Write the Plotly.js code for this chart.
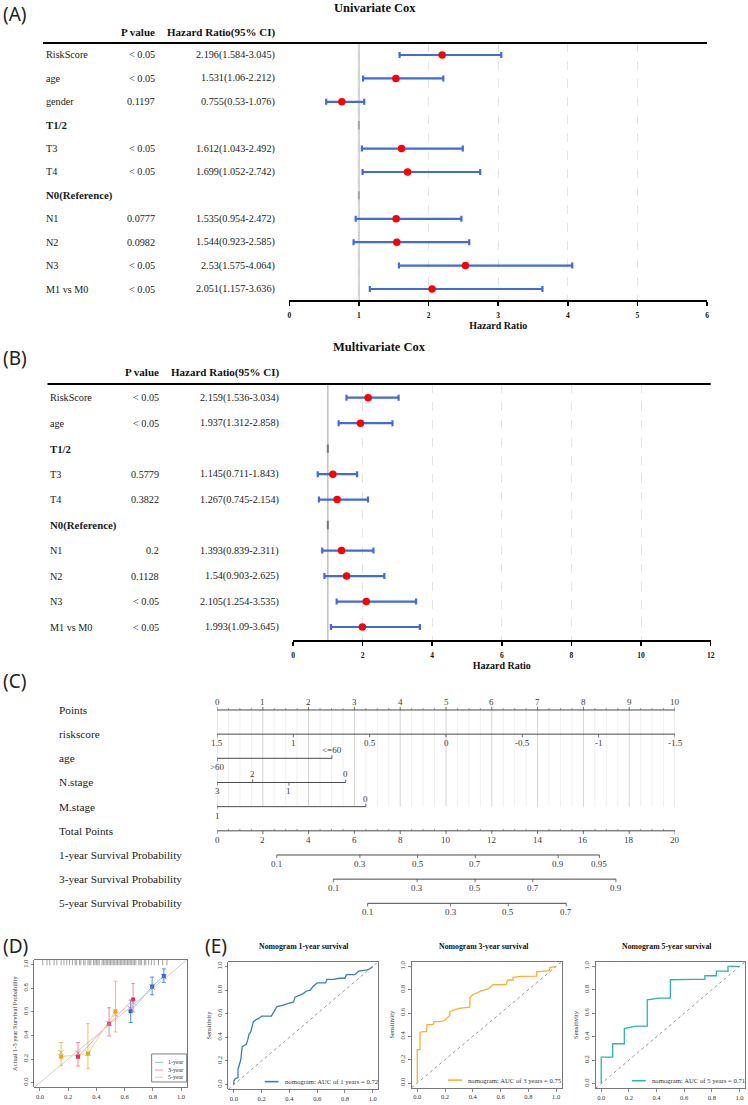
<!DOCTYPE html>
<html><head><meta charset="utf-8">
<script src="https://cdn.plot.ly/plotly-3.0.1.min.js"></script>
<style>html,body{margin:0;padding:0;background:#fff}#chart{width:748px;height:1105px}</style>
</head><body><div id="chart"></div>
<script>
// ================= DATA =================
// (A) Univariate Cox
const uniVars=['RiskScore','age','gender','T1/2','T3','T4','N0(Reference)','N1','N2','N3','M1 vs M0'];
const uniP=['< 0.05','< 0.05','0.1197','','< 0.05','< 0.05','','0.0777','0.0982','< 0.05','< 0.05'];
const uniHR=[2.196,1.531,0.755,null,1.612,1.699,null,1.535,1.544,2.53,2.051];
const uniLo=[1.584,1.06,0.53,null,1.043,1.052,null,0.954,0.923,1.575,1.157];
const uniHi=[3.045,2.212,1.076,null,2.492,2.742,null,2.472,2.585,4.064,3.636];
// (B) Multivariate Cox
const mulVars=['RiskScore','age','T1/2','T3','T4','N0(Reference)','N1','N2','N3','M1 vs M0'];
const mulP=['< 0.05','< 0.05','','0.5779','0.3822','','0.2','0.1128','< 0.05','< 0.05'];
const mulHR=[2.159,1.937,null,1.145,1.267,null,1.393,1.54,2.105,1.993];
const mulLo=[1.536,1.312,null,0.711,0.745,null,0.839,0.903,1.254,1.09];
const mulHi=[3.034,2.858,null,1.843,2.154,null,2.311,2.625,3.535,3.645];
// (C) Nomogram
const nomoRows=['Points','riskscore','age','N.stage','M.stage','Total Points','1-year Survival Probability','3-year Survival Probability','5-year Survival Probability'];
const pointsTicks=[0,1,2,3,4,5,6,7,8,9,10];
const riskTicks=[1.5,1,0.5,0,-0.5,-1,-1.5];
const riskPoints=[0,1.667,3.333,5,6.667,8.333,10];
const ageLevels=['>60','<=60'];
const agePoints=[0,2.51];
const nLevels=['3','2','1','0'];
const nPoints=[0,0.78,1.57,2.81];
const mLevels=['1','0'];
const mPoints=[0,3.25];
const totalTicks=[0,2,4,6,8,10,12,14,16,18,20];
const surv1Probs=[0.1,0.3,0.5,0.7,0.9,0.95];
const surv1Total=[2.61,6.24,8.76,11.28,14.9,16.7];
const surv3Probs=[0.1,0.3,0.5,0.7,0.9];
const surv3Total=[5.08,8.74,11.27,13.79,17.42];
const surv5Probs=[0.1,0.3,0.5,0.7];
const surv5Total=[6.58,10.2,12.72,15.25];
// (D) Calibration
const calNames=['1-year','3-year','5-year'];
const cal1Pred=[0.643,0.795,0.878], cal1Obs=[0.605,0.815,0.905], cal1Lo=[0.51,0.745,0.85], cal1Hi=[0.70,0.895,0.965], cal1Cor=[0.625,0.81,0.90];
const cal3Pred=[0.27,0.49,0.66],   cal3Obs=[0.22,0.50,0.705],  cal3Lo=[0.14,0.395,0.60], cal3Hi=[0.34,0.635,0.84], cal3Cor=[0.25,0.50,0.68];
const cal5Pred=[0.15,0.34,0.535],  cal5Obs=[0.22,0.245,0.605], cal5Lo=[0.145,0.12,0.43], cal5Hi=[0.34,0.50,0.86], cal5Cor=[0.255,0.25,0.58];
const rugPred=[0.02,0.05,0.07,0.1,0.12,0.15,0.17,0.19,0.21,0.23,0.25,0.26,0.28,0.29,0.31,0.32,0.34,0.35,0.36,0.38,0.39,0.4,0.41,0.42,0.44,0.45,0.46,0.47,0.48,0.49,0.5,0.51,0.52,0.53,0.54,0.55,0.56,0.57,0.58,0.59,0.6,0.61,0.62,0.63,0.64,0.65,0.66,0.67,0.68,0.7,0.71,0.72,0.74,0.75,0.77,0.79,0.81,0.84,0.87,0.9];
// (E) ROC curves
const roc1Fpr=[0,0,0.01,0.03,0.03,0.04,0.05,0.06,0.08,0.09,0.1,0.11,0.12,0.13,0.14,0.16,0.18,0.2,0.27,0.29,0.31,0.35,0.37,0.4,0.43,0.44,0.48,0.5,0.52,0.55,0.57,0.6,0.66,0.67,0.72,0.76,0.8,0.81,0.87,0.9,0.96,0.98,1];
const roc1Tpr=[0,0.03,0.05,0.06,0.13,0.18,0.21,0.32,0.33,0.34,0.38,0.43,0.44,0.48,0.53,0.55,0.56,0.58,0.58,0.62,0.66,0.67,0.68,0.69,0.7,0.74,0.76,0.77,0.79,0.8,0.83,0.86,0.86,0.89,0.89,0.9,0.9,0.93,0.93,0.96,0.97,0.98,1];
const roc3Fpr=[0,0,0.02,0.02,0.04,0.067,0.07,0.115,0.12,0.17,0.2,0.22,0.235,0.235,0.27,0.3,0.378,0.38,0.4,0.44,0.46,0.51,0.53,0.545,0.64,0.65,0.69,0.69,0.75,0.86,0.86,0.95,0.955,1];
const roc3Tpr=[0,0.286,0.286,0.434,0.44,0.44,0.5,0.5,0.526,0.526,0.54,0.56,0.58,0.614,0.626,0.64,0.65,0.734,0.757,0.777,0.79,0.806,0.823,0.843,0.843,0.883,0.883,0.906,0.914,0.917,0.954,0.963,0.99,1];
const roc5Fpr=[0,0,0.083,0.083,0.167,0.167,0.25,0.333,0.333,0.417,0.5,0.5,0.667,0.75,0.75,0.833,0.833,0.917,0.917,1];
const roc5Tpr=[0,0.226,0.226,0.34,0.34,0.47,0.49,0.49,0.715,0.73,0.73,0.886,0.89,0.89,0.92,0.92,0.96,0.96,1,1];
const rocYears=[1,3,5];
const rocAUC=[0.72,0.75,0.71];

// ================= LAYOUT HELPERS =================
const SERIF='Liberation Serif, Times New Roman, serif';
const W=748,H=1105;
const X=p=>p/W, Y=p=>1-p/H;
const xdom=(a,b)=>[a/W,b/W];
const ydom=(top,bot)=>[1-bot/H,1-top/H];
const traces=[],annotations=[],shapes=[];
const layout={width:W,height:H,margin:{l:0,r:0,t:0,b:0},paper_bgcolor:'#fff',plot_bgcolor:'rgba(0,0,0,0)',
  showlegend:false,hovermode:false,font:{family:SERIF,color:'#222'},annotations,shapes};
function ann(o){annotations.push(Object.assign({showarrow:false,xanchor:'center',yanchor:'middle'},o));}
function txt(text,x,y,o={}){ann(Object.assign({text,x,y,xref:'paper',yref:'paper',
  font:{family:SERIF,size:10,color:'#1a1a1a'}},o));}

// panel letters
[['(A)',1,14],['(B)',1,358],['(C)',1,681],['(D)',1,946],['(E)',203,946]].forEach(([t,x,y])=>
  txt(t,X(x),Y(y),{xanchor:'left',font:{family:'Noto Sans, DejaVu Sans, sans-serif',size:19,color:'#222'}}));

// ================= FOREST PLOTS =================
function forest(o){
  const ax=o.ax, xa='x'+ax, ya='y'+ax, idx=o.vars.map((_,i)=>i);
  layout['xaxis'+ax]={domain:xdom(o.x0,o.x1),range:o.range,anchor:ya,dtick:o.dtick,tick0:0,showline:true,linecolor:'#000',
    linewidth:2,ticks:'outside',ticklen:4,tickwidth:1.5,tickcolor:'#000',ticklabelstandoff:3,
    tickfont:{family:SERIF,size:7.5,color:'#111',weight:'bold'},
    showgrid:true,gridcolor:'#dedede',griddash:'dash',gridwidth:0.8,zeroline:false,fixedrange:true,
    title:{text:'<b>Hazard Ratio</b>',font:{family:SERIF,size:10,color:'#111'},standoff:1}};
  layout['yaxis'+ax]={domain:ydom(o.top,o.bot),range:o.yr,anchor:xa,visible:false,fixedrange:true};
  shapes.push({type:'line',xref:xa,yref:ya+' domain',x0:1,x1:1,y0:0,y1:1,line:{color:o.refColor,width:o.refW},layer:'below'});
  shapes.push({type:'line',xref:'paper',yref:ya+' domain',x0:X(o.l0),x1:X(o.x1),y0:1,y1:1,line:{color:'#000',width:2}});
  const isRef=o.hr.map(h=>h==null);
  traces.push({type:'scatter',mode:'markers',xaxis:xa,yaxis:ya,x:idx.filter(i=>isRef[i]).map(()=>1),y:idx.filter(i=>isRef[i]),
    marker:{symbol:'line-ns',size:6,line:{color:o.refTick,width:2}},hoverinfo:'skip'});
  traces.push({type:'scatter',mode:'markers',xaxis:xa,yaxis:ya,x:o.hr,y:idx,
    error_x:{type:'data',symmetric:false,array:o.hr.map((h,i)=>h==null?null:+(o.hi[i]-h).toFixed(4)),
      arrayminus:o.hr.map((h,i)=>h==null?null:+(h-o.lo[i]).toFixed(4)),color:'#4169e1',thickness:2.2,width:3},
    marker:{color:'#ff0000',size:7.5},hoverinfo:'skip'});
  // table
  txt(o.title,X(o.titleX),Y(o.titleY),{font:{family:SERIF,size:12.5,color:'#111'}});
  txt('<b>P value</b>',X(o.pX),Y(o.headY),{xanchor:'right',font:{family:SERIF,size:11,color:'#111'}});
  txt('<b>Hazard Ratio(95% CI)</b>',X(o.hrX),Y(o.headY),{xanchor:'right',font:{family:SERIF,size:11,color:'#111'}});
  idx.forEach(i=>{
    const f={family:SERIF,size:isRef[i]?10.8:10.2,color:'#1a1a1a'};
    ann({text:isRef[i]?'<b>'+o.vars[i]+'</b>':o.vars[i],xref:'paper',yref:ya,x:X(o.labX),y:i,xanchor:'left',font:f});
    if(!isRef[i]){
      ann({text:o.p[i],xref:'paper',yref:ya,x:X(o.pX),y:i,xanchor:'right',font:f});
      ann({text:`${o.hr[i]}(${o.lo[i]}-${o.hi[i]})`,xref:'paper',yref:ya,x:X(o.hrX),y:i,xanchor:'right',font:f});
    }
  });
}
forest({ax:'',vars:uniVars,p:uniP,hr:uniHR,lo:uniLo,hi:uniHi,x0:289.3,x1:707,l0:43,top:43,bot:300,yr:[10.47,-0.513],
  range:[0,6],dtick:1,refColor:'#d2d2d2',refW:2.2,refTick:'#a8a8a8',title:'<b>Univariate Cox</b>',titleX:375,titleY:8,
  headY:32,labX:43.5,pX:157,hrX:277});
forest({ax:'2',vars:mulVars,p:mulP,hr:mulHR,lo:mulLo,hi:mulHi,x0:293,x1:710.7,l0:47.5,top:384,bot:640,yr:[9.51,-0.538],
  range:[0,12],dtick:2,refColor:'#c4c4c4',refW:1.6,refTick:'#777',title:'<b>Multivariate Cox</b>',titleX:379,titleY:347,
  headY:372,labX:47.5,pX:161,hrX:281});

// ================= NOMOGRAM =================
layout.xaxis3={domain:xdom(217,675),range:[0,10],anchor:'y3',visible:false,fixedrange:true};
layout.yaxis3={domain:ydom(697.9,915.4),range:[8.5,-0.5],anchor:'x3',visible:false,fixedrange:true};
const mk=()=>({x:[],y:[]});
const nLine=mk(),nTick=mk(),nMinor=mk(),gMaj=mk(),gMin=mk();
function seg(o,x0,y0,x1,y1){o.x.push(x0,x1,null);o.y.push(y0,y1,null);}
const TK=0.13;
function nomoAxis(row,pos,labels,sides){
  seg(nLine,Math.min(...pos),row,Math.max(...pos),row);
  pos.forEach((p,i)=>{const s=sides[i]||sides[0];seg(nTick,p,row,p,s==='above'?row-TK:row+TK);
    ann({text:labels[i],xref:'x3',yref:'y3',x:p,y:row,yshift:s==='above'?8:-9,
      font:{family:SERIF,size:9,color:'#3a3a3a'}});});
}
for(let k=0;k<=40;k++){const p=k/4; seg(k%4===0?gMaj:gMin,p,0,p,4); if(k%4) seg(nMinor,p,0,p,-0.08);}
for(let k=0;k<=40;k++){ if(k%4) seg(nMinor,k/4,5,k/4,4.92);}
nomoAxis(0,pointsTicks,pointsTicks.map(String),['above']);
nomoAxis(1,riskPoints,riskTicks.map(String),['below']);
nomoAxis(2,agePoints,ageLevels,['below','above']);
nomoAxis(3,nPoints,nLevels,['below','above','below','above']);
nomoAxis(4,mPoints,mLevels,['below','above']);
nomoAxis(5,totalTicks.map(t=>t/2),totalTicks.map(String),['below']);
nomoAxis(6,surv1Total.map(t=>t/2),surv1Probs.map(String),['below']);
nomoAxis(7,surv3Total.map(t=>t/2),surv3Probs.map(String),['below']);
nomoAxis(8,surv5Total.map(t=>t/2),surv5Probs.map(String),['below']);
const nl=(o,c,w)=>({type:'scatter',mode:'lines',xaxis:'x3',yaxis:'y3',x:o.x,y:o.y,line:{color:c,width:w},cliponaxis:false,hoverinfo:'skip'});
traces.push(nl(gMin,'#efefef',1),nl(gMaj,'#d4d4d4',1),nl(nLine,'#4a4a4a',1),nl(nTick,'#4a4a4a',0.8),nl(nMinor,'#6a6a6a',0.7));
nomoRows.forEach((r,i)=>ann({text:r,xref:'paper',yref:'y3',x:X(57),y:i,xanchor:'left',
  font:{family:SERIF,size:11.3,color:'#222'}}));

// ================= SMALL R-STYLE AXES =================
function rAxis(id,xd,yd,ytitle){
  const base={range:[-0.04,1.04],showline:true,mirror:true,linecolor:'#555',linewidth:0.8,ticks:'outside',ticklen:3,tickwidth:0.7,
    tickcolor:'#555',tickvals:[0,0.2,0.4,0.6,0.8,1],tickformat:'.1f',tickfont:{family:SERIF,size:6.5,color:'#333'},
    showgrid:false,zeroline:false,fixedrange:true};
  layout['xaxis'+id]=Object.assign({},base,{domain:xdom(...xd),anchor:'y'+id});
  layout['yaxis'+id]=Object.assign({},base,{domain:ydom(...yd),anchor:'x'+id,tickangle:-90,
    title:{text:ytitle,font:{family:SERIF,size:6.5,color:'#333'},standoff:3}});
}
// (D) calibration
rAxis(4,[34.3,186.7],[960,1087.3],'Actual 1-5 year Survival Probability');
shapes.push({type:'line',xref:'x4 domain',yref:'y4 domain',x0:0,y0:0,x1:1,y1:1,line:{color:'#c8c8c8',width:0.9},layer:'below'});
traces.push({type:'scatter',mode:'markers',xaxis:'x4',yaxis:'y4',x:rugPred,y:rugPred.map(()=>1.025),
  marker:{symbol:'line-ns',size:5,line:{color:'#666',width:0.6}},hoverinfo:'skip'});
const calSets=[
  {p:cal1Pred,o:cal1Obs,lo:cal1Lo,hi:cal1Hi,c:cal1Cor,line:'#8fd0ef',pt:'#1565e0',err:'#3f86dc'},
  {p:cal3Pred,o:cal3Obs,lo:cal3Lo,hi:cal3Hi,c:cal3Cor,line:'#f6a5ad',pt:'#ee2a45',err:'#f2808f'},
  {p:cal5Pred,o:cal5Obs,lo:cal5Lo,hi:cal5Hi,c:cal5Cor,line:'#fcd18f',pt:'#f7a21b',err:'#f9b54a'}];
calSets.forEach(s=>traces.push({type:'scatter',mode:'lines',xaxis:'x4',yaxis:'y4',x:s.p,y:s.o,line:{color:s.line,width:1},hoverinfo:'skip'}));
calSets.forEach(s=>{
  traces.push({type:'scatter',mode:'markers',xaxis:'x4',yaxis:'y4',x:s.p,y:s.o,
    error_y:{type:'data',symmetric:false,array:s.o.map((v,i)=>+(s.hi[i]-v).toFixed(4)),arrayminus:s.o.map((v,i)=>+(v-s.lo[i]).toFixed(4)),
      color:s.err,thickness:0.9,width:2},marker:{symbol:'square',size:4,color:s.pt},hoverinfo:'skip'});
  traces.push({type:'scatter',mode:'markers',xaxis:'x4',yaxis:'y4',x:s.p,y:s.c,
    marker:{symbol:'x-thin-open',size:5,line:{color:'#8f86e6',width:1}},hoverinfo:'skip'});
});
shapes.push({type:'rect',xref:'x4 domain',yref:'y4 domain',x0:0.77,x1:1,y0:0.042,y1:0.262,line:{color:'#444',width:0.7},fillcolor:'#fff'});
[0.196,0.136,0.079].forEach((yy,i)=>{
  shapes.push({type:'line',xref:'x4 domain',yref:'y4 domain',x0:0.792,x1:0.846,y0:yy,y1:yy,line:{color:calSets[i].line,width:1.2}});
  ann({text:calNames[i],xref:'x4 domain',yref:'y4 domain',x:0.862,y:yy,xanchor:'left',
    font:{family:SERIF,size:6,color:'#333'}});
});

// (E) ROC
const rocDefs=[
  {id:5,xd:[228.3,378.3],yd:[961.7,1089.3],f:roc1Fpr,t:roc1Tpr,col:'#3a7bc8',tx:303.8},
  {id:6,xd:[411.7,561.7],yd:[961.7,1087.7],f:roc3Fpr,t:roc3Tpr,col:'#ffad33',tx:484.2},
  {id:7,xd:[595.7,745],yd:[961.7,1088.3],f:roc5Fpr,t:roc5Tpr,col:'#2bb6a8',tx:666.7}];
rocDefs.forEach((r,k)=>{
  rAxis(r.id,r.xd,r.yd,'Sensitivity');
  shapes.push({type:'line',xref:'x'+r.id+' domain',yref:'y'+r.id+' domain',x0:0,y0:0,x1:1,y1:1,line:{color:'#666',width:0.7,dash:'dot'},layer:'below'});
  traces.push({type:'scatter',mode:'lines',xaxis:'x'+r.id,yaxis:'y'+r.id,x:r.f,y:r.t,line:{color:r.col,width:1.3},hoverinfo:'skip'});
  txt(`<b>Nomogram ${rocYears[k]}-year survival</b>`,X(r.tx),Y(946.7),{font:{family:SERIF,size:7.8,color:'#111'}});
  shapes.push({type:'line',xref:'x'+r.id+' domain',yref:'y'+r.id+' domain',x0:0.243,x1:0.335,y0:0.06,y1:0.06,line:{color:r.col,width:1.6}});
  ann({text:`nomogram: AUC of ${rocYears[k]} years = ${rocAUC[k]}`,xref:'x'+r.id+' domain',yref:'y'+r.id+' domain',
    x:0.365,y:0.06,xanchor:'left',font:{family:SERIF,size:6.7,color:'#333'}});
});

Plotly.newPlot('chart',traces,layout,{displayModeBar:false,staticPlot:true});
</script></body></html>
